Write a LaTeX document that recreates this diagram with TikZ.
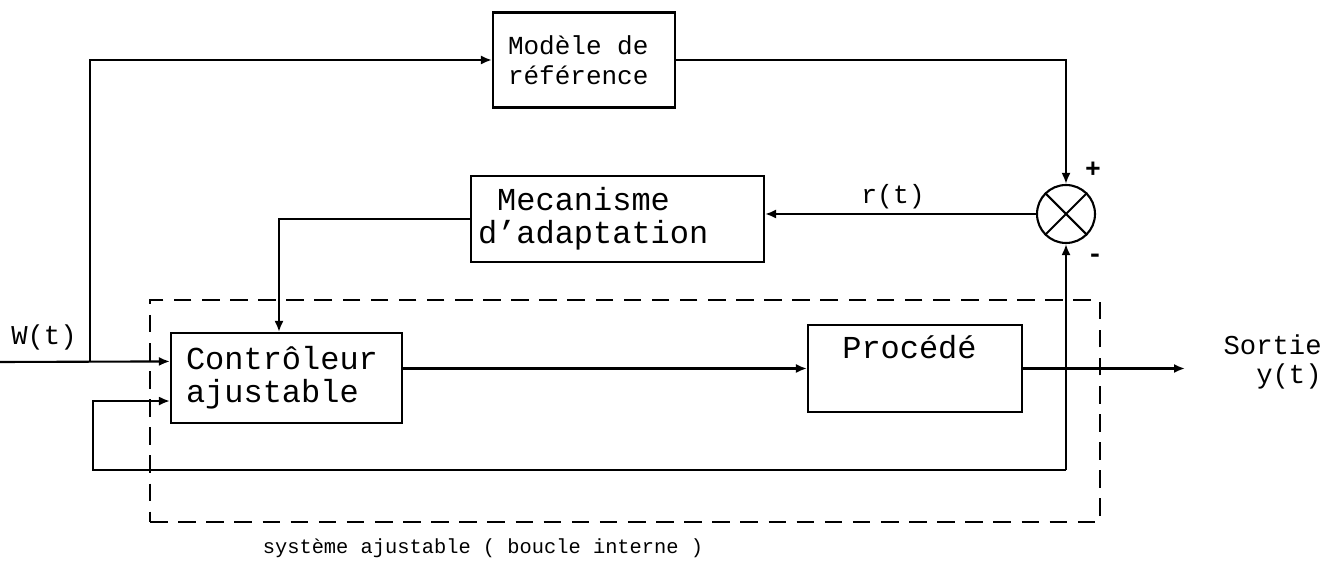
\documentclass[tikz,border=0pt]{standalone}
\usepackage{fontspec}
\setmainfont{Liberation Mono}[WordSpace={1,0,0}]
\usetikzlibrary{arrows.meta,calc}
\tikzset{
  blk/.style={draw,line width=1.2pt,rectangle,inner ysep=0pt,align=left},
  bigfont/.style={font=\fontsize{18.2pt}{19pt}\selectfont},
  midfont/.style={font=\fontsize{14.8pt}{17pt}\selectfont},
  conn/.style={line width=1.2pt},
  arr/.style={conn,-{Latex[length=2.2mm,width=1.8mm]}},
  lbl/.style={font=\fontsize{15.5pt}{16.5pt}\selectfont,inner sep=0pt},
  sumc/.style={draw,circle,line width=1.2pt,minimum size=1.16cm,inner sep=0pt},
  dashbox/.style={draw,line width=1.2pt,dash pattern=on 10pt off 6pt,rectangle,inner sep=0pt}
}
\begin{document}
\begin{tikzpicture}[x=0.02cm,y=-0.02cm]
\useasboundingbox (0,0) rectangle (1343,570);
% blocks
\node[blk,midfont,inner xsep=0.3cm,text width=3.04cm,minimum height=1.9cm] (model) at (584,60) {Modèle\hspace{0.6em}de\\référence};
\node[blk,bigfont,inner xsep=0.14cm,text width=5.58cm,minimum height=1.72cm] (adapt) at (617.5,219) {\hspace{0.6em}Mecanisme\\d’adaptation};
\node[blk,bigfont,inner xsep=0.3cm,text width=4.02cm,minimum height=1.8cm] (ctrl) at (286.5,378) {Contrôleur\\ajustable};
\node[blk,minimum width=4.28cm,minimum height=1.74cm,inner sep=0pt,
      label={[bigfont,inner sep=0pt,anchor=north west,xshift=0.7cm,yshift=-0.22cm]north west:Procédé}] (proc) at (915,368.5) {};
\node[sumc] (sum) at (1066,214) {};
\draw[conn] (sum.north west) -- (sum.south east) (sum.north east) -- (sum.south west);
\node[dashbox,minimum width=19cm,minimum height=4.44cm] (inner) at (625,411) {};
% labels
\node[lbl] (wlab) at (44,337) {W(t)};
\node[lbl,font=\fontsize{15pt}{16pt}\selectfont] (rlab) at (893,197) {r(t)};
\node[lbl,font=\bfseries\fontsize{15pt}{16pt}\selectfont] (plus) at (1093,170) {+};
\node[lbl,font=\bfseries\fontsize{15pt}{16pt}\selectfont] (minus) at (1095,258) {-};
\node[lbl,align=right,anchor=east] (outlab) at (1322,362) {Sortie\\y(t)};
\node[lbl,font=\fontsize{11.6pt}{13pt}\selectfont] (caption) at (483,548) {système ajustable ( boucle interne )};
% coordinates
\coordinate (win) at (0,362);
\coordinate (wb) at (90,362);
\coordinate (out) at (1185,368.5);
\coordinate (fb) at (1066,470);
\coordinate (fbl) at (93,470);
\coordinate (cin1) at ($(ctrl.south west)!0.68!(ctrl.north west)$);
\coordinate (cin2) at ($(ctrl.south west)!0.25!(ctrl.north west)$);
% connectors
\draw[arr] (win) -- (cin1);
\draw[arr] (wb) |- (model.west);
\draw[arr] (model.east) -| (sum.north);
\draw[arr] (sum.west) -- (sum.west -| adapt.east);
\draw[arr] (adapt.west) -| ([xshift=-0.15cm]ctrl.north);
\draw[arr] (proc.west -| ctrl.east) -- (proc.west);
\draw[arr] (proc.east) -- (out);
\draw[arr] (fb) -- (sum.south);
\draw[arr] (fb) -- (fbl) |- (cin2);
\end{tikzpicture}
\end{document}
